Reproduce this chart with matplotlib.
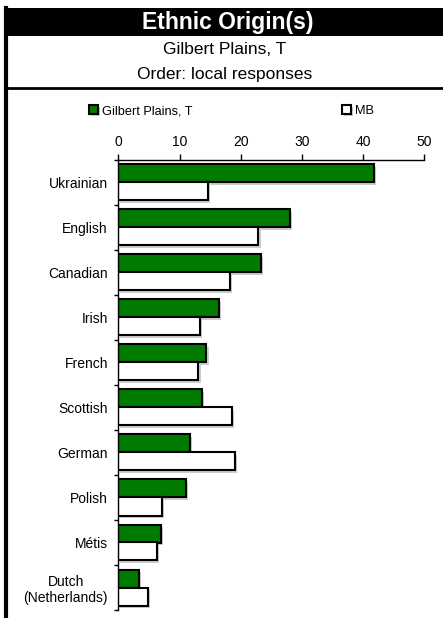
import matplotlib
matplotlib.use("Agg")
import matplotlib.pyplot as plt
import matplotlib.patheffects as pe
from matplotlib.patches import Rectangle
import numpy as np

plt.rcParams['font.family'] = ['Liberation Sans', 'DejaVu Sans']

categories = ['Ukrainian', 'English', 'Canadian', 'Irish', 'French', 'Scottish',
              'German', 'Polish', 'Métis', 'Dutch\n(Netherlands)']
local_vals = [41.8, 28.1, 23.3, 16.4, 14.4, 13.7, 11.7, 11.0, 6.9, 3.4]
mb_vals = [14.7, 22.9, 18.2, 13.4, 13.1, 18.5, 19.1, 7.2, 6.3, 4.8]
ticks = [0, 10, 20, 30, 40, 50]

W, H = 443, 618
fig = plt.figure(figsize=(W / 100, H / 100), dpi=100)

# header boxes
fig.patches.append(Rectangle((5 / W, 1 - 36 / H), 1, 28 / H, transform=fig.transFigure,
                             facecolor='black', edgecolor='none'))
fig.lines.append(plt.Line2D([5 / W, 1], [1 - 88 / H, 1 - 88 / H], transform=fig.transFigure,
                            color='black', lw=2))
fig.lines.append(plt.Line2D([5.5 / W, 5.5 / W], [1 - 8 / H, 0], transform=fig.transFigure,
                            color='black', lw=3))
fig.text(228 / W, 1 - 22 / H, 'Ethnic Origin(s)', color='white', fontsize=16.5,
         fontweight='bold', ha='center', va='center')
fig.text(225 / W, 1 - 50 / H, 'Gilbert Plains, T', fontsize=12.5, ha='center', va='center')
fig.text(225 / W, 1 - 75 / H, 'Order: local responses', fontsize=12.5, ha='center', va='center')

ax = fig.add_axes([118.3 / W, 1 - 610 / H, (424.3 - 118.3) / W, 450 / H])
y = np.arange(len(categories))
h = 0.4
shadow = [pe.SimplePatchShadow(offset=(1.5, -1.5), shadow_rgbFace='0.8', alpha=1), pe.Normal()]
b1 = ax.barh(y - h / 2, local_vals, height=h, color='#007a00', edgecolor='black', lw=1.5,
             label='Gilbert Plains, T')
b2 = ax.barh(y + h / 2, mb_vals, height=h, color='white', edgecolor='black', lw=1.5, label='MB')
for b in list(b1) + list(b2):
    b.set_path_effects(shadow)

ax.set_xlim(0, 50)
ax.set_ylim(len(categories) - 0.5, -0.5)
ax.xaxis.tick_top()
ax.set_xticks(ticks)
ax.tick_params(axis='x', direction='out', length=4, width=1, labelsize=10, pad=4)
ax.set_yticks(y)
ax.set_yticklabels(categories, fontsize=10)
for lab in ax.get_yticklabels():
    lab.set_multialignment('center')
ax.set_yticks(np.arange(len(categories) + 1) - 0.5, minor=True)
ax.tick_params(axis='y', which='major', length=0, pad=7.5)
ax.tick_params(axis='y', which='minor', length=3, width=1)
for s in ['right', 'bottom']:
    ax.spines[s].set_visible(False)
ax.spines['top'].set_linewidth(1)
ax.spines['left'].set_linewidth(1)

fig.legend(handles=[b1, b2], loc='center left', bbox_to_anchor=(83 / W, 1 - 111 / H),
           ncol=2, frameon=False, fontsize=9.2, handlelength=0.7, handleheight=0.7,
           handletextpad=0.3, columnspacing=11.7, borderpad=0)

fig.savefig('out.png', dpi=100)
